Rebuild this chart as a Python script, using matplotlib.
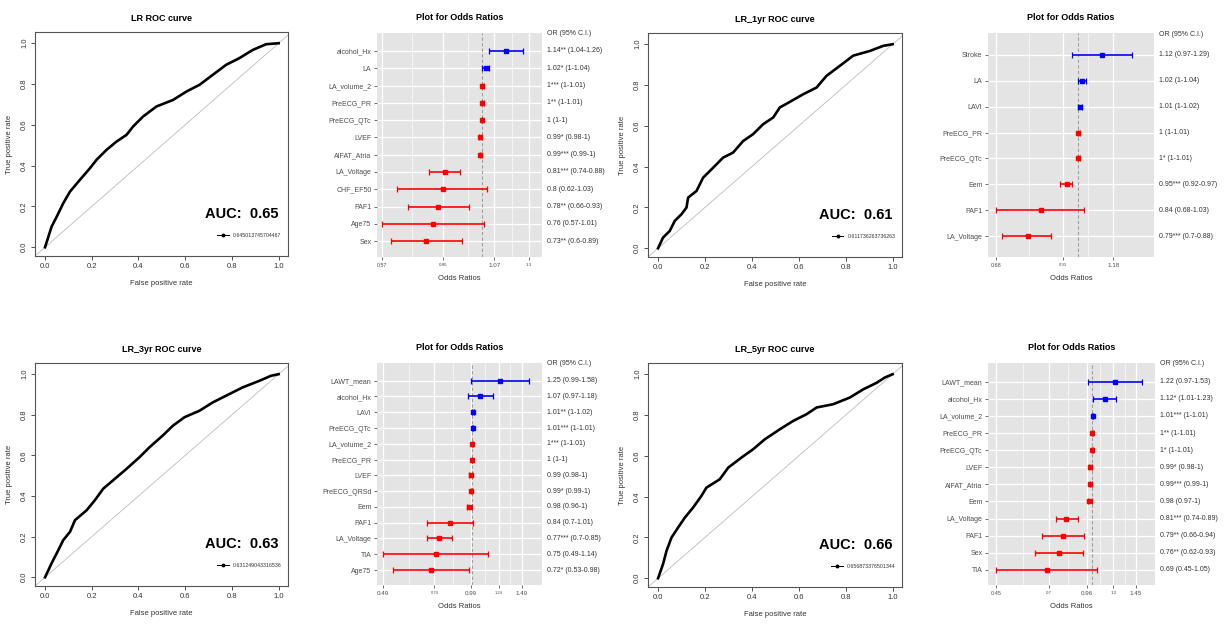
import matplotlib
matplotlib.use("Agg")
import matplotlib.pyplot as plt
from matplotlib.lines import Line2D
from matplotlib.ticker import FixedLocator, NullFormatter
import numpy as np

plt.rcParams["font.family"] = ["Liberation Sans", "DejaVu Sans"]

# ---- ROC curves ----
roc_titles = ["LR ROC curve", "LR_1yr ROC curve", "LR_3yr ROC curve", "LR_5yr ROC curve"]
roc_auc = [0.645013745704467, 0.611736263736263, 0.631249043316536, 0.656873376501344]

lr_fpr = [0, 0.028, 0.05, 0.078, 0.107, 0.149, 0.192, 0.22, 0.263, 0.306, 0.349, 0.377,
          0.42, 0.477, 0.548, 0.605, 0.661, 0.718, 0.775, 0.832, 0.889, 0.946, 1]
lr_tpr = [0, 0.101, 0.15, 0.216, 0.273, 0.33, 0.387, 0.428, 0.477, 0.518, 0.551, 0.592,
          0.641, 0.69, 0.722, 0.763, 0.796, 0.845, 0.894, 0.927, 0.967, 0.995, 1]

lr1_fpr = [0, 0.021, 0.05, 0.071, 0.1, 0.121, 0.128, 0.164, 0.192, 0.235, 0.277, 0.32, 0.363,
           0.405, 0.448, 0.491, 0.519, 0.569, 0.619, 0.676, 0.718, 0.775, 0.832, 0.903, 0.96, 1]
lr1_tpr = [0, 0.052, 0.085, 0.134, 0.167, 0.199, 0.248, 0.281, 0.346, 0.395, 0.444, 0.469, 0.526,
           0.559, 0.608, 0.641, 0.69, 0.722, 0.755, 0.788, 0.845, 0.894, 0.944, 0.967, 0.992, 1]

lr3_fpr = [0, 0.028, 0.057, 0.078, 0.107, 0.128, 0.178, 0.213, 0.249, 0.299, 0.349, 0.405,
           0.448, 0.505, 0.548, 0.597, 0.661, 0.718, 0.775, 0.846, 0.917, 0.967, 1]
lr3_tpr = [0, 0.069, 0.134, 0.183, 0.224, 0.281, 0.33, 0.379, 0.436, 0.485, 0.534, 0.592,
           0.641, 0.699, 0.747, 0.788, 0.82, 0.861, 0.894, 0.935, 0.967, 0.992, 1]

lr5_fpr = [0, 0.021, 0.036, 0.057, 0.085, 0.114, 0.149, 0.185, 0.206, 0.263, 0.299, 0.356,
           0.405, 0.455, 0.519, 0.576, 0.633, 0.676, 0.747, 0.818, 0.875, 0.932, 0.967, 1]
lr5_tpr = [0, 0.069, 0.134, 0.199, 0.248, 0.297, 0.346, 0.404, 0.444, 0.485, 0.542, 0.592,
           0.632, 0.681, 0.73, 0.771, 0.804, 0.837, 0.853, 0.886, 0.926, 0.958, 0.984, 1]

# ---- odds ratio tables ----
or_all_vars = ["alcohol_Hx", "LA", "LA_volume_2", "PreECG_PR", "PreECG_QTc", "LVEF",
               "AIFAT_Atria", "LA_Voltage", "CHF_EF50", "PAF1", "Age75", "Sex"]
or_all_est = [1.14, 1.02, 1, 1, 1, 0.99, 0.99, 0.81, 0.8, 0.78, 0.76, 0.73]
or_all_lo = [1.04, 1, 1, 1, 1, 0.98, 0.99, 0.74, 0.62, 0.66, 0.57, 0.6]
or_all_hi = [1.26, 1.04, 1.01, 1.01, 1, 1, 1, 0.88, 1.03, 0.93, 1.01, 0.89]
or_all_sig = ["**", "*", "***", "**", "", "*", "***", "***", "", "**", "", "**"]
or_all_ticks = [0.57, 0.80, 1.07, 1.3]
or_all_ticklabels = ["0.57", "0.80", "1.07", "1.3"]

or_1yr_vars = ["Stroke", "LA", "LAVI", "PreECG_PR", "PreECG_QTc", "Eem", "PAF1", "LA_Voltage"]
or_1yr_est = [1.12, 1.02, 1.01, 1, 1, 0.95, 0.84, 0.79]
or_1yr_lo = [0.97, 1, 1, 1, 1, 0.92, 0.68, 0.7]
or_1yr_hi = [1.29, 1.04, 1.02, 1.01, 1.01, 0.97, 1.03, 0.88]
or_1yr_sig = ["", "", "", "", "*", "***", "", "***"]
or_1yr_ticks = [0.68, 0.93, 1.18]
or_1yr_ticklabels = ["0.68", "0.93", "1.18"]

or_3yr_vars = ["LAWT_mean", "alcohol_Hx", "LAVI", "PreECG_QTc", "LA_volume_2", "PreECG_PR",
               "LVEF", "PreECG_QRSd", "Eem", "PAF1", "LA_Voltage", "TIA", "Age75"]
or_3yr_est = [1.25, 1.07, 1.01, 1.01, 1, 1, 0.99, 0.99, 0.98, 0.84, 0.77, 0.75, 0.72]
or_3yr_lo = [0.99, 0.97, 1, 1, 1, 1, 0.98, 0.99, 0.96, 0.7, 0.7, 0.49, 0.53]
or_3yr_hi = [1.58, 1.18, 1.02, 1.01, 1.01, 1, 1, 1, 1, 1.01, 0.85, 1.14, 0.98]
or_3yr_sig = ["", "", "**", "***", "***", "", "", "*", "", "", "***", "", "*"]
or_3yr_ticks = [0.49, 0.74, 0.99, 1.24, 1.49]
or_3yr_ticklabels = ["0.49", "0.74", "0.99", "1.24", "1.49"]

or_5yr_vars = ["LAWT_mean", "alcohol_Hx", "LA_volume_2", "PreECG_PR", "PreECG_QTc", "LVEF",
               "AIFAT_Atria", "Eem", "LA_Voltage", "PAF1", "Sex", "TIA"]
or_5yr_est = [1.22, 1.12, 1.01, 1, 1, 0.99, 0.99, 0.98, 0.81, 0.79, 0.76, 0.69]
or_5yr_lo = [0.97, 1.01, 1, 1, 1, 0.98, 0.99, 0.97, 0.74, 0.66, 0.62, 0.45]
or_5yr_hi = [1.53, 1.23, 1.01, 1.01, 1.01, 1, 1, 1, 0.89, 0.94, 0.93, 1.05]
or_5yr_sig = ["", "*", "***", "**", "*", "*", "***", "", "***", "**", "**", ""]
or_5yr_ticks = [0.45, 0.7, 0.96, 1.2, 1.45]
or_5yr_ticklabels = ["0.45", "0.7", "0.96", "1.2", "1.45"]

W, H = 1225, 630
fig = plt.figure(figsize=(W / 100, H / 100), dpi=100)


def px_axes(left, top, right, bottom):
    return fig.add_axes([left / W, 1 - bottom / H, (right - left) / W, (bottom - top) / H])


def roc_panel(box, fpr, tpr, title, auc):
    ax = px_axes(*box)
    ax.axline((0, 0), (1, 1), color="#BDBDBD", lw=0.6)
    ax.plot(fpr, tpr, color="black", lw=1.9)
    ax.set_xlim(-0.043, 1.04)
    ax.set_ylim(-0.043, 1.055)
    ticks = np.arange(0, 1.01, 0.2)
    ax.set_xticks(ticks)
    ax.set_yticks(ticks)
    ax.set_xticklabels([f"{t:.1f}" for t in ticks])
    ax.set_yticklabels([f"{t:.1f}" for t in ticks], rotation=90, va="center")
    ax.tick_params(length=3, width=0.6, labelsize=5.5, colors="#333333", pad=2)
    for s in ax.spines.values():
        s.set_color("#555555")
        s.set_linewidth(0.8)
    ax.set_title(title, fontsize=6.5, fontweight="bold", pad=8)
    ax.set_xlabel("False positive rate", fontsize=5.5, color="#333333", labelpad=7)
    ax.set_ylabel("True positive rate", fontsize=5.5, color="#333333", labelpad=6)
    ax.text(1.0, 0.165, f"AUC:  {auc:.2f}", fontsize=10.5, fontweight="bold",
            ha="right", va="center")
    h = Line2D([], [], color="black", lw=0.7, marker="o", ms=1.8)
    ax.legend([h], [repr(auc)], loc="lower right", bbox_to_anchor=(0.985, 0.07),
              fontsize=3.8, frameon=False, handlelength=2.2, handletextpad=0.8,
              borderpad=0, labelcolor="#333333")
    return ax


def or_panel(box, names, est, lo, hi, sig, ticks, ticklabels, tick_sizes, xlim, pads):
    ax = px_axes(*box)
    n = len(names)
    y = np.arange(1, n + 1)
    est = np.array(est)
    lo = np.array(lo)
    hi = np.array(hi)
    ax.set_facecolor("#E4E4E4")
    ax.set_xscale("log")
    ax.set_xlim(*xlim)
    ax.set_ylim(n + pads[1], 1 - pads[0])
    ax.xaxis.set_major_locator(FixedLocator(ticks))
    lt = np.log(ticks)
    minors = list(np.exp((lt[:-1] + lt[1:]) / 2))
    ax.xaxis.set_minor_locator(FixedLocator(minors))
    ax.xaxis.set_minor_formatter(NullFormatter())
    ax.set_xticklabels(ticklabels)
    for lab, fs in zip(ax.get_xticklabels(), tick_sizes):
        lab.set_fontsize(fs)
    ax.set_yticks(y)
    ax.set_yticklabels(names)
    ax.grid(True, which="major", color="white", lw=0.9)
    ax.grid(True, which="minor", axis="x", color="white", lw=0.45)
    ax.set_axisbelow(True)
    ax.tick_params(axis="both", which="major", length=2, width=0.5, color="#333333",
                   labelcolor="#4D4D4D", pad=2)
    ax.tick_params(axis="y", labelsize=5)
    ax.tick_params(which="minor", length=0)
    for s in ax.spines.values():
        s.set_visible(False)
    ax.axvline(1, color="#A0A0A0", lw=0.8, ls=(0, (3, 2)))
    for yi, e, l, h_ in zip(y, est, lo, hi):
        c = "#0000FF" if e > 1 else "#FF0000"
        ax.errorbar(e, yi, xerr=[[e - l], [h_ - e]], fmt="s", color=c, ms=3.4,
                    elinewidth=1.2, capsize=2.2, capthick=0.9)
    tr = ax.get_yaxis_transform()
    ax.text(1.03, 1 - pads[0] + 0.05, "OR (95% C.I.)", transform=tr,
            fontsize=5, color="#333333", va="center", ha="left")
    for yi, e, l, h_, s_ in zip(y, est, lo, hi, sig):
        ax.text(1.03, yi, f"{e:g}{s_} ({l:g}-{h_:g})", transform=tr, fontsize=5,
                color="#333333", va="center", ha="left")
    ax.set_title("Plot for Odds Ratios", fontsize=6.5, fontweight="bold", pad=9.5)
    ax.set_xlabel("Odds Ratios", fontsize=5.5, color="#333333", labelpad=5)
    return ax


roc_panel((35, 32, 288, 256), lr_fpr, lr_tpr, roc_titles[0], roc_auc[0])
roc_panel((648, 33, 902, 257), lr1_fpr, lr1_tpr, roc_titles[1], roc_auc[1])
roc_panel((35, 363, 288, 586), lr3_fpr, lr3_tpr, roc_titles[2], roc_auc[2])
roc_panel((648, 363, 902, 587), lr5_fpr, lr5_tpr, roc_titles[3], roc_auc[3])

or_panel((377, 33, 542, 257), or_all_vars, or_all_est, or_all_lo, or_all_hi, or_all_sig,
         or_all_ticks, or_all_ticklabels, [3.8, 3.2, 4.5, 3.2], (0.553, 1.40), (1.04, 0.92))
or_panel((988, 33, 1154, 257), or_1yr_vars, or_1yr_est, or_1yr_lo, or_1yr_hi, or_1yr_sig,
         or_1yr_ticks, or_1yr_ticklabels, [4.0, 3.0, 4.5], (0.654, 1.43), (0.85, 0.81))
or_panel((377, 363, 542, 585), or_3yr_vars, or_3yr_est, or_3yr_lo, or_3yr_hi, or_3yr_sig,
         or_3yr_ticks, or_3yr_ticklabels, [4.5, 3.0, 4.5, 3.0, 4.5], (0.468, 1.75), (1.12, 0.95))
or_panel((988, 363, 1155, 585), or_5yr_vars, or_5yr_est, or_5yr_lo, or_5yr_hi, or_5yr_sig,
         or_5yr_ticks, or_5yr_ticklabels, [4.0, 3.2, 4.5, 3.2, 4.5], (0.42, 1.70), (1.09, 0.88))

fig.savefig("out.png", dpi=100, facecolor="white")
